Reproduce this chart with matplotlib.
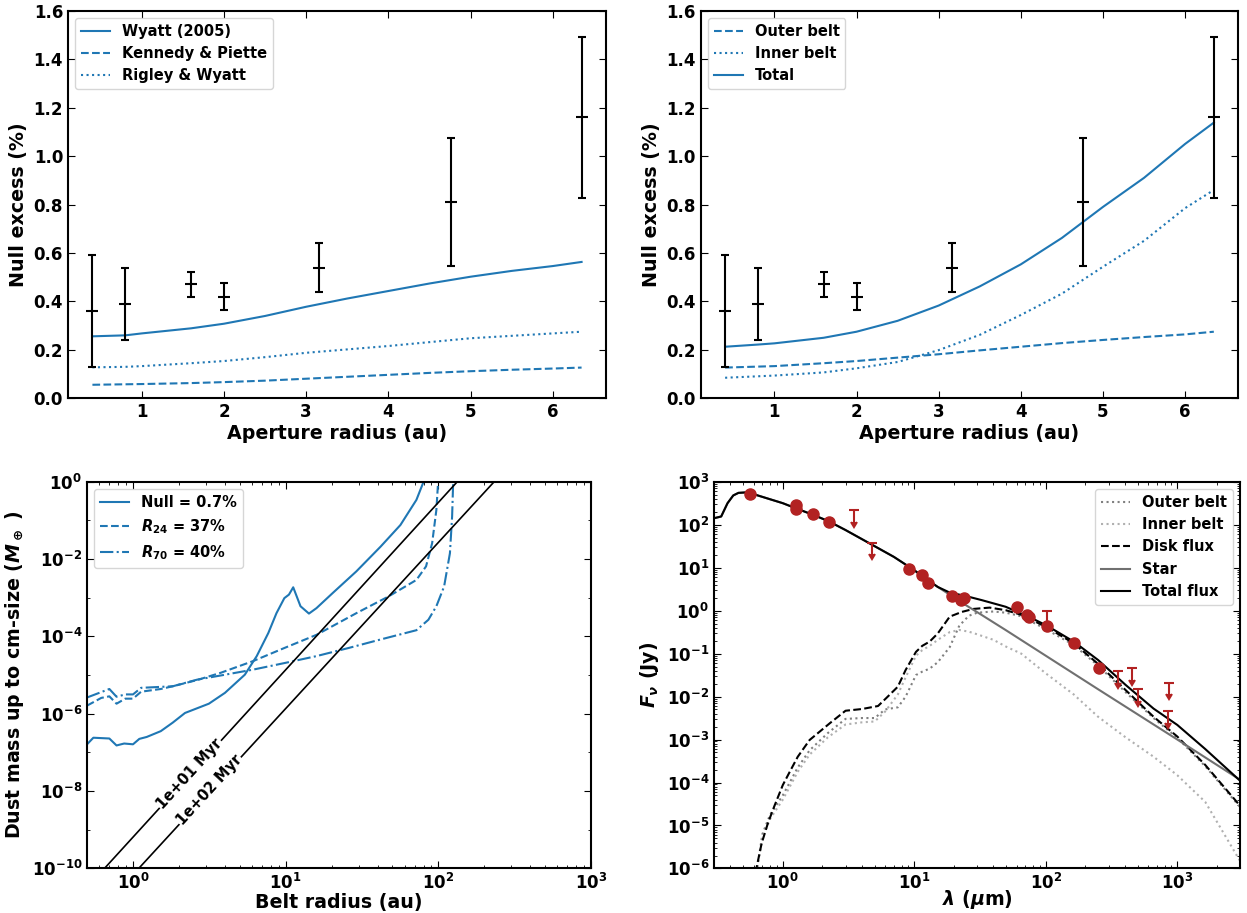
import numpy as np
import matplotlib
matplotlib.use("Agg")
import matplotlib.pyplot as plt
from matplotlib.ticker import FixedLocator, LogLocator, NullFormatter

plt.rcParams.update({
    "font.family": ["DejaVu Sans"],
    "font.weight": "bold",
    "axes.labelweight": "bold",
    "font.size": 10,
    "mathtext.fontset": "custom",
    "mathtext.rm": "DejaVu Sans:bold",
    "mathtext.it": "DejaVu Sans:italic:bold",
    "mathtext.bf": "DejaVu Sans:bold",
    "mathtext.default": "it",
    "axes.linewidth": 1.5,
    "xtick.direction": "in",
    "ytick.direction": "in",
    "xtick.top": True,
    "ytick.right": True,
    "xtick.major.size": 5,
    "ytick.major.size": 5,
    "xtick.minor.size": 2.5,
    "ytick.minor.size": 2.5,
})

BLUE = "#1f77b4"
RED = "#b22222"
LABEL_FS = 13.7
LEGEND_FS = 10.5
TICK_FS = 12

# ---------------- Top panels: null excess vs aperture radius ----------------
obs_radius = [0.4, 0.8, 1.6, 2.0, 3.16, 4.76, 6.35]
obs_null = [0.36, 0.39, 0.47, 0.42, 0.54, 0.81, 1.16]
obs_err = [0.23, 0.15, 0.05, 0.055, 0.10, 0.265, 0.333]

model_radius = [0.4, 0.8, 1.0, 1.6, 2.0, 2.5, 3.0, 3.5, 4.0, 4.5, 5.0, 5.5, 6.0, 6.35]
wyatt = [0.256, 0.260, 0.268, 0.289, 0.308, 0.340, 0.378, 0.412, 0.443, 0.474, 0.502, 0.526, 0.546, 0.563]
kennedy = [0.056, 0.058, 0.059, 0.063, 0.067, 0.073, 0.081, 0.089, 0.097, 0.105, 0.112, 0.118, 0.123, 0.127]
rigley = [0.128, 0.130, 0.133, 0.145, 0.154, 0.170, 0.188, 0.202, 0.216, 0.232, 0.248, 0.258, 0.268, 0.275]

outer_belt = [0.127, 0.131, 0.133, 0.145, 0.154, 0.168, 0.182, 0.198, 0.213, 0.228, 0.241, 0.253, 0.264, 0.275]
inner_belt = [0.085, 0.091, 0.094, 0.107, 0.124, 0.150, 0.199, 0.262, 0.344, 0.432, 0.543, 0.650, 0.785, 0.860]
total_null = [0.213, 0.222, 0.227, 0.250, 0.275, 0.320, 0.383, 0.462, 0.553, 0.662, 0.790, 0.910, 1.050, 1.138]

# ---------------- Bottom-left: dust mass vs belt radius ----------------
null_r = [0.5, 0.55, 0.70, 0.78, 0.875, 1.0, 1.1, 1.23, 1.52, 1.82, 2.19, 3.14, 4.0, 5.4, 6.46,
          7.7, 8.7, 9.8, 10.5, 11.2, 12.5, 14.2, 15.9, 20.3, 29, 41.8, 56.4, 71.8, 80]
null_logm = [-6.79, -6.62, -6.64, -6.82, -6.77, -6.79, -6.65, -6.60, -6.45, -6.23, -5.98, -5.74, -5.46,
             -4.99, -4.51, -3.91, -3.40, -3.01, -2.92, -2.73, -3.22, -3.41, -3.27, -2.88, -2.32, -1.68,
             -1.12, -0.47, 0.0]
r24_r = [0.5, 0.62, 0.70, 0.78, 0.89, 1.0, 1.13, 1.52, 1.82, 2.62, 3.76, 6.1, 9.8, 15.9, 29, 47,
         71.8, 83, 91, 97, 99.6]
r24_logm = [-5.79, -5.59, -5.55, -5.74, -5.61, -5.61, -5.43, -5.36, -5.29, -5.13, -4.94, -4.64, -4.30,
            -3.96, -3.40, -2.97, -2.54, -2.19, -1.59, -0.73, 0.0]
r70_r = [0.5, 0.70, 0.78, 0.89, 1.0, 1.13, 1.82, 2.62, 3.76, 6.1, 9.8, 15.9, 25.8, 41.8, 71.8, 86,
         97, 109, 119, 123, 125]
r70_logm = [-5.58, -5.36, -5.56, -5.50, -5.50, -5.33, -5.29, -5.12, -5.01, -4.86, -4.69, -4.51, -4.30,
            -4.08, -3.84, -3.57, -3.22, -2.71, -1.85, -0.90, 0.0]
age10_r = [0.65, 133.0]
age100_r = [1.09, 232.0]
age_m = [1e-10, 1e0]
age_labels = ["1e+01 Myr", "1e+02 Myr"]
age_label_pos = [(2.35, 10 ** -7.55), (3.18, 10 ** -7.98)]

# ---------------- Bottom-right: SED ----------------
tot_wl = [0.30, 0.34, 0.38, 0.42, 0.46, 0.52, 0.60, 1.0, 1.26, 1.73, 2.23, 3.0, 4.6, 7.0, 10, 12.2,
          15.1, 18.6, 24.6, 32.5, 49.5, 61, 81, 102, 163, 250, 405, 660, 1000, 1630, 2980]
tot_log = [2.15, 2.19, 2.50, 2.68, 2.74, 2.75, 2.71, 2.50, 2.38, 2.22, 2.08, 1.875, 1.56, 1.25, 0.94,
           0.75, 0.55, 0.42, 0.34, 0.245, 0.09, -0.03, -0.20, -0.35, -0.72, -1.15, -1.73, -2.28, -2.66,
           -3.22, -3.95]
star_wl = [0.30, 0.34, 0.38, 0.42, 0.46, 0.52, 0.60, 1.0, 1.26, 1.73, 2.23, 3.0, 4.6, 7.0, 10, 12.2,
           15.1, 18.6, 24.6, 32.5, 50, 100, 250, 1000, 2980]
star_log = [2.15, 2.19, 2.50, 2.68, 2.74, 2.75, 2.71, 2.50, 2.38, 2.22, 2.08, 1.875, 1.56, 1.25, 0.94,
            0.73, 0.55, 0.37, 0.13, -0.10, -0.46, -1.05, -1.83, -3.0, -3.93]
disk_wl = [0.62, 0.69, 0.77, 0.86, 1.0, 1.13, 1.3, 1.6, 2.28, 3.0, 4.0, 5.3, 6.1, 7.5, 8.6, 10.3,
           11.5, 13.1, 15.1, 18.6, 23, 28.3, 37.5, 49.5, 65.7, 102, 163, 250, 405, 660, 1000, 1630, 2980]
disk_log = [-6.1, -5.42, -4.95, -4.56, -4.06, -3.75, -3.40, -3.01, -2.62, -2.33, -2.29, -2.22, -2.04,
            -1.77, -1.38, -0.96, -0.82, -0.72, -0.53, -0.14, -0.03, 0.04, 0.07, 0.01, -0.10, -0.39,
            -0.76, -1.24, -1.85, -2.47, -2.93, -3.59, -4.53]
belt_wl = [0.63, 0.7, 0.8, 1.0, 1.3, 1.6, 2.2, 3.0, 4.0, 5.0, 6.0, 7.5, 8.6, 10.3, 11.5, 13.1, 15.1,
           18.6, 22, 26, 30, 40, 50, 65, 100, 163, 250, 405, 660, 1000, 1630, 2980]
outer_log = [-6.1, -5.2, -4.75, -4.3, -3.65, -3.25, -2.85, -2.52, -2.5, -2.5, -2.3, -2.25, -2.0, -1.5,
             -1.42, -1.35, -1.2, -0.85, -0.35, -0.12, -0.05, -0.02, -0.05, -0.13, -0.43, -0.80, -1.28,
             -1.90, -2.50, -2.96, -3.62, -4.56]
inner_log = [-6.1, -5.3, -4.85, -4.4, -3.75, -3.35, -2.95, -2.65, -2.6, -2.58, -2.35, -1.95, -1.55,
             -1.05, -0.92, -0.82, -0.68, -0.50, -0.45, -0.49, -0.55, -0.68, -0.84, -1.0, -1.46, -1.95,
             -2.47, -2.95, -3.40, -3.83, -4.45, -5.81]
phot_wl = [0.56, 1.25, 1.25, 1.70, 2.24, 9.1, 11.4, 12.7, 19.4, 22.7, 23.8, 60.2, 72.3, 74, 102, 165, 252]
phot_flux = [510, 290, 230, 177, 117, 9.5, 6.7, 4.5, 2.2, 1.76, 2.0, 1.19, 0.79, 0.72, 0.45, 0.18, 0.047]
ul_wl = [3.48, 4.76, 102, 352, 450, 507, 863, 845]
ul_flux = [218, 38, 0.98, 0.039, 0.045, 0.0149, 0.021, 0.0045]
UL_ARROW = 0.46  # fractional length of upper-limit arrows


def style(ax):
    ax.tick_params(which="both", direction="in", top=True, right=True, labelsize=TICK_FS)
    for lab in ax.get_xticklabels() + ax.get_yticklabels():
        lab.set_fontweight("bold")


fig = plt.figure(figsize=(12.47, 9.13), dpi=100)
ax1 = fig.add_axes([0.0545, 0.5637, 0.4315, 0.4246])
ax2 = fig.add_axes([0.5619, 0.5637, 0.4311, 0.4246])
ax3 = fig.add_axes([0.0698, 0.0488, 0.4042, 0.4236])
ax4 = fig.add_axes([0.5726, 0.0488, 0.4218, 0.4236])

# --- top left
ax1.plot(model_radius, wyatt, "-", color=BLUE, lw=1.5, label="Wyatt (2005)")
ax1.plot(model_radius, kennedy, "--", color=BLUE, lw=1.5, label="Kennedy & Piette")
ax1.plot(model_radius, rigley, ":", color=BLUE, lw=1.5, label="Rigley & Wyatt")
ax1.errorbar(obs_radius, obs_null, yerr=obs_err, fmt="_", color="k", ms=8, mew=1.5,
             elinewidth=1.5, capsize=3, capthick=1.5)
ax1.set_ylim(0, 1.6)
ax1.set_xlabel("Aperture radius (au)", fontsize=LABEL_FS, labelpad=2)
ax1.set_ylabel("Null excess (%)", fontsize=LABEL_FS)
ax1.legend(loc="upper left", fontsize=LEGEND_FS)

# --- top right
ax2.plot(model_radius, outer_belt, "--", color=BLUE, lw=1.5, label="Outer belt")
ax2.plot(model_radius, inner_belt, ":", color=BLUE, lw=1.5, label="Inner belt")
ax2.plot(model_radius, total_null, "-", color=BLUE, lw=1.5, label="Total")
ax2.errorbar(obs_radius, obs_null, yerr=obs_err, fmt="_", color="k", ms=8, mew=1.5,
             elinewidth=1.5, capsize=3, capthick=1.5)
ax2.set_ylim(0, 1.6)
ax2.set_xlabel("Aperture radius (au)", fontsize=LABEL_FS, labelpad=2)
ax2.set_ylabel("Null excess (%)", fontsize=LABEL_FS)
ax2.legend(loc="upper left", fontsize=LEGEND_FS)

for ax in (ax1, ax2):
    ax.set_xticks([1, 2, 3, 4, 5, 6])
    ax.set_yticks([0.0, 0.2, 0.4, 0.6, 0.8, 1.0, 1.2, 1.4, 1.6])
    style(ax)

# --- bottom left
ax3.set_xscale("log")
ax3.set_yscale("log")
ax3.plot(null_r, np.power(10.0, null_logm), "-", color=BLUE, lw=1.5, label="Null = 0.7%")
ax3.plot(r24_r, np.power(10.0, r24_logm), "--", color=BLUE, lw=1.5, label="$R_{24}$ = 37%")
ax3.plot(r70_r, np.power(10.0, r70_logm), "-.", color=BLUE, lw=1.5, label="$R_{70}$ = 40%")
ax3.set_xlim(0.5, 1000)
ax3.set_ylim(1e-10, 1e0)
for rr in (age10_r, age100_r):
    ax3.plot(rr, age_m, "-", color="k", lw=1.2, zorder=3)
ax3.set_yticks([10.0 ** k for k in range(-10, 1, 2)])
ax3.yaxis.set_minor_locator(FixedLocator([10.0 ** k for k in range(-9, 0, 2)]))
ax3.yaxis.set_minor_formatter(NullFormatter())
ax3.set_xticks([1, 10, 100, 1000])
ax3.xaxis.set_minor_locator(LogLocator(base=10, subs=np.arange(2, 10), numticks=20))
ax3.xaxis.set_minor_formatter(NullFormatter())
p0 = ax3.transData.transform((age10_r[0], age_m[0]))
p1 = ax3.transData.transform((age10_r[1], age_m[1]))
ang = np.degrees(np.arctan2(p1[1] - p0[1], p1[0] - p0[0]))
for txt, pos in zip(age_labels, age_label_pos):
    ax3.text(pos[0], pos[1], txt, rotation=ang, rotation_mode="anchor", ha="center", va="center",
             fontsize=10.5, fontweight="bold", zorder=4,
             bbox=dict(boxstyle="square,pad=0.05", fc="white", ec="none"))
ax3.set_xlabel("Belt radius (au)", fontsize=LABEL_FS, labelpad=0)
ax3.set_ylabel(r"Dust mass up to cm-size ($M_\oplus$ )", fontsize=LABEL_FS)
ax3.legend(loc="upper left", fontsize=LEGEND_FS)
style(ax3)

# --- bottom right
ax4.set_xscale("log")
ax4.set_yscale("log")
ax4.plot(belt_wl, np.power(10.0, outer_log), ":", color="#808080", lw=1.5, label="Outer belt")
ax4.plot(belt_wl, np.power(10.0, inner_log), ":", color="#b0b0b0", lw=1.5, label="Inner belt")
ax4.plot(disk_wl, np.power(10.0, disk_log), "--", color="k", lw=1.5, label="Disk flux")
ax4.plot(star_wl, np.power(10.0, star_log), "-", color="#707070", lw=1.5, label="Star")
ax4.plot(tot_wl, np.power(10.0, tot_log), "-", color="k", lw=1.5, label="Total flux")
ax4.plot(phot_wl, phot_flux, "o", color=RED, ms=8, zorder=5)
ul_flux_arr = np.array(ul_flux)
_, ul_caps, _ = ax4.errorbar(ul_wl, ul_flux_arr, yerr=UL_ARROW * ul_flux_arr, uplims=True,
                             fmt="none", color=RED, ecolor=RED, elinewidth=1.5, capsize=3.5,
                             capthick=1.5, zorder=5)
for cl in ul_caps:
    if not isinstance(cl.get_marker(), str):
        cl.set_markersize(5)
ax4.set_xlim(0.3, 3000)
ax4.set_ylim(1e-6, 1e3)
ax4.set_yticks([10.0 ** k for k in range(-6, 4)])
ax4.yaxis.set_minor_locator(LogLocator(base=10, subs=np.arange(2, 10), numticks=20))
ax4.yaxis.set_minor_formatter(NullFormatter())
ax4.set_xticks([1, 10, 100, 1000])
ax4.xaxis.set_minor_locator(LogLocator(base=10, subs=np.arange(2, 10), numticks=20))
ax4.xaxis.set_minor_formatter(NullFormatter())
ax4.set_xlabel(r"$\lambda$ ($\mu$m)", fontsize=LABEL_FS, labelpad=-4)
ax4.set_ylabel(r"$F_\nu$ (Jy)", fontsize=LABEL_FS)
ax4.legend(loc="upper right", fontsize=LEGEND_FS)
style(ax4)

fig.savefig("out.png", dpi=100)
